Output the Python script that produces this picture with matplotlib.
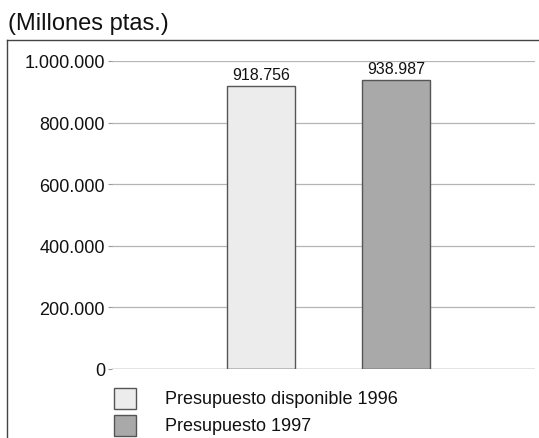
import matplotlib
matplotlib.use("Agg")
import matplotlib.pyplot as plt
from matplotlib.patches import Rectangle
from matplotlib.lines import Line2D

categories = ["Presupuesto disponible 1996", "Presupuesto 1997"]
values = [918756, 938987]
value_labels = ["918.756", "938.987"]
yticks = [0, 200000, 400000, 600000, 800000, 1000000]
ytick_labels = ["0", "200.000", "400.000", "600.000", "800.000", "1.000.000"]
title = "(Millones ptas.)"

colors = ["#ececec", "#a9a9a9"]
edges = ["#555555", "#555555"]

plt.rcParams['font.family'] = ['Liberation Sans', 'DejaVu Sans']

W, H = 539, 439
fig = plt.figure(figsize=(W / 100, H / 100), dpi=100)
fig.patch.set_facecolor("white")

# outer frame (left and top edges)
fig.add_artist(Line2D([7 / W, 7 / W], [0, 1 - 41 / H], transform=fig.transFigure,
                      color="#444444", lw=1.0))
fig.add_artist(Line2D([7 / W, 1], [1 - 41 / H, 1 - 41 / H], transform=fig.transFigure,
                      color="#444444", lw=1.0))

fig.text(8 / W, 1 - 30 / H, title, fontsize=17, color="#111111", va="baseline", ha="left")

ax_l, ax_r = 112 / W, 535 / W
ax_b, ax_t = 1 - 370 / H, 1 - 62 / H
ax = fig.add_axes([ax_l, ax_b, ax_r - ax_l, ax_t - ax_b])
ax.set_facecolor("none")

x = list(range(len(values)))
bars = ax.bar(x, values, width=0.504, color=colors, edgecolor=edges, linewidth=1.0, zorder=3)

ax.set_xlim(-1.104, 2.03)
ax.set_ylim(0, 1000000)
ax.set_yticks(yticks)
ax.set_yticklabels(ytick_labels, fontsize=13, color="#111111")
ax.tick_params(axis="y", length=3, color="#999999", pad=2)
ax.set_xticks([])
for s in ax.spines.values():
    s.set_visible(False)

for yv in yticks[1:]:
    ax.axhline(yv, color="#b5b5b5", lw=0.9, zorder=1)
ax.axhline(0, color="#777777", lw=1.0, zorder=4)

for xi, v, lab in zip(x, values, value_labels):
    ax.text(xi, v + 12000, lab, ha="center", va="bottom", fontsize=11.5, color="#111111")

# legend
for i, (cat, c) in enumerate(zip(categories, colors)):
    top = 389 + i * 27
    fig.add_artist(Rectangle((114 / W, 1 - (top + 21) / H), 22 / W, 21 / H,
                             transform=fig.transFigure, facecolor=c,
                             edgecolor="#555555", lw=1.0))
    fig.text(165 / W, 1 - (top + 11) / H, cat, fontsize=13, color="#111111",
             va="center", ha="left")

fig.savefig("out.png", dpi=100, facecolor="white")
